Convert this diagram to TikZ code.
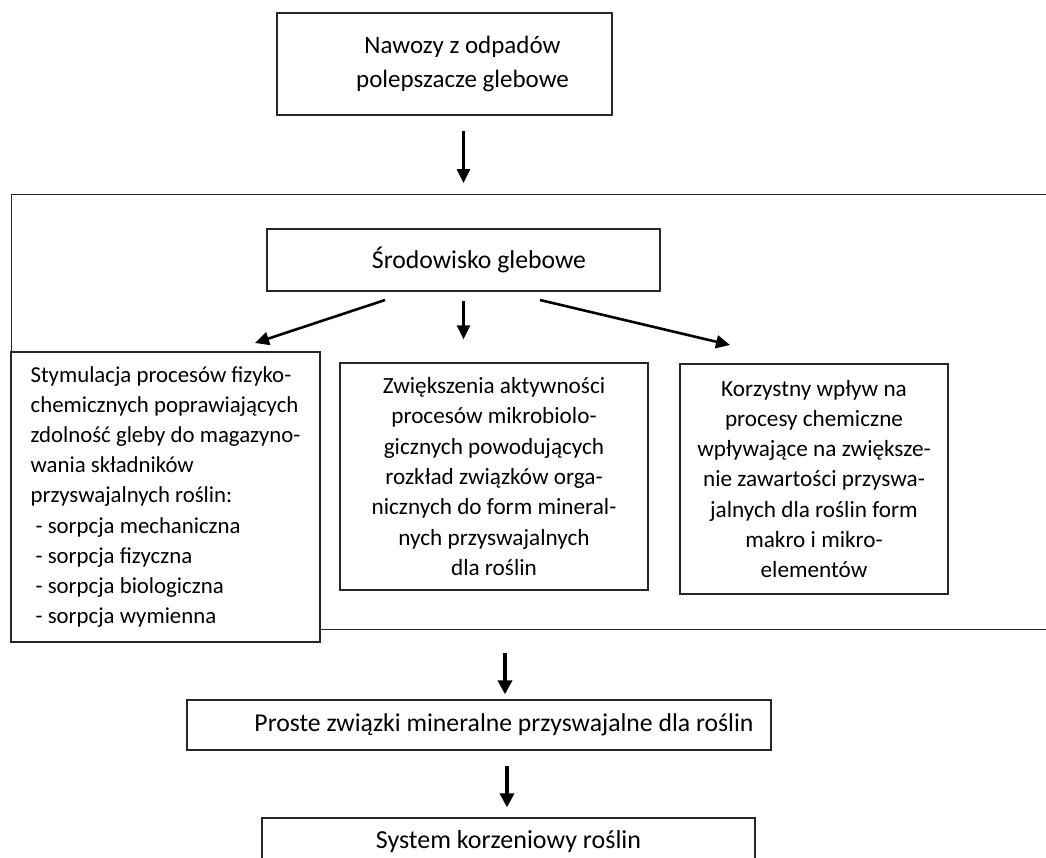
\documentclass[tikz,border=0pt]{standalone}
\usepackage{fontspec}
\setmainfont{Carlito}
\usetikzlibrary{arrows.meta}
\begin{document}
\begin{tikzpicture}[x=1pt,y=-1pt,
  box/.style={draw=black!85, line width=1.3pt, inner sep=0pt, align=center, fill=white,
    font=\fontsize{23}{30.2}\selectfont},
  big/.style={font=\fontsize{25.7}{34}\selectfont},
  arr/.style={line width=2.6pt, -{Triangle[length=14pt,width=13pt]}},
  arrb/.style={line width=3.4pt, -{Triangle[length=14pt,width=14pt]}},
  ]
\useasboundingbox (0,0) rectangle (1046,857);
\clip (0,0) rectangle (1046,857);
\node[box, minimum width=335pt, minimum height=102pt, font=\fontsize{25}{34}\selectfont] (top) at (444.5,64) {\hspace*{36pt}Nawozy z odpadów\\\hspace*{36pt}polepszacze glebowe};
\node[draw=black!85, line width=1.3pt, inner sep=0pt, minimum width=1049pt, minimum height=435pt, anchor=north west] (frame) at (11,194) {};
\node[box, big, minimum width=393pt, minimum height=62pt] (env) at (463.5,260) {\hspace*{31pt}Środowisko glebowe};
\node[box, minimum width=309pt, minimum height=290pt, align=left, font=\fontsize{22.8}{30.2}\selectfont] (left) at (165.5,497) {Stymulacja procesów fizyko-\\chemicznych poprawiających\hspace*{4pt}\\zdolność gleby do magazyno-\hspace*{4pt}\\wania składników\\przyswajalnych roślin:\\\hspace*{5pt}- sorpcja mechaniczna\\\hspace*{5pt}- sorpcja fizyczna\\\hspace*{5pt}- sorpcja biologiczna\\\hspace*{5pt}- sorpcja wymienna};
\node[box, minimum width=308pt, minimum height=227pt, font=\fontsize{23.2}{30.4}\selectfont] (mid) at (494,476.5) {Zwiększenia aktywności\\procesów mikrobiolo-\\gicznych powodujących\\rozkład związków orga-\\nicznych do form mineral-\\nych przyswajalnych\\dla roślin};
\node[box, minimum width=268pt, minimum height=230pt, font=\fontsize{23.2}{30.2}\selectfont] (right) at (814,479) {Korzystny wpływ na\\procesy chemiczne\\wpływające na zwiększe-\\nie zawartości przyswa-\\jalnych dla roślin form\\makro i mikro-\\elementów};
\node[box, big, minimum width=584pt, minimum height=50pt] (prost) at (479,725) {\hspace*{50pt}Proste związki mineralne przyswajalne dla roślin};
\node[box, font=\fontsize{26}{34}\selectfont, minimum width=493pt, minimum height=48pt] (sys) at (508.5,842) {System korzeniowy roślin};
\draw[arr, shorten <=15pt, shorten >=11pt] (top.south -| env.north) -- (env.north |- frame.north);
\draw[arr, shorten <=9pt, shorten >=23pt] (env.south) -- (mid.north -| env.south);
\coordinate (la) at (385,300);
\coordinate (lb) at (255,343);
\coordinate (ra) at (540,300);
\coordinate (rb) at (730,345);
\draw[arr] (la) -- (lb);
\draw[arr] (ra) -- (rb);
\draw[arrb, shorten <=23pt, shorten >=5pt] (frame.south -| 505,0) -- (prost.north -| 505,0);
\draw[arrb, shorten <=15pt, shorten >=10pt] (prost.south -| 507,0) -- (sys.north -| 507,0);
\end{tikzpicture}
\end{document}
